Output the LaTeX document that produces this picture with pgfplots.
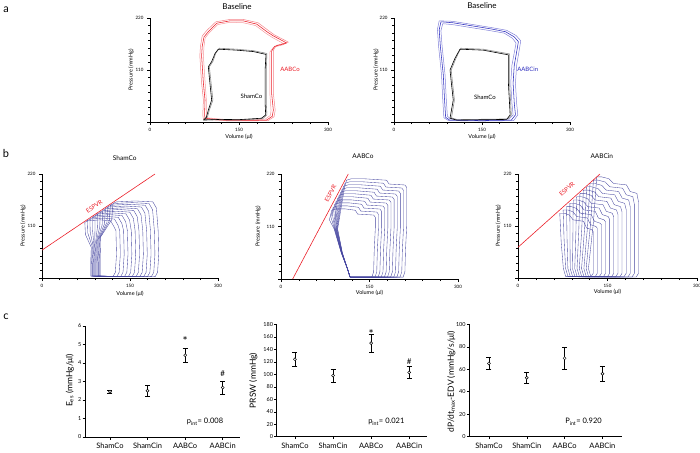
\documentclass[border=0pt]{standalone}
\usepackage{fontspec}
\setmainfont{Lato}
\usepackage{pgfplots}
\pgfplotsset{compat=1.18}
\definecolor{pvblue}{RGB}{70,70,160}
\definecolor{aared}{RGB}{235,30,40}
\definecolor{aablue}{RGB}{45,45,190}
\pgfplotsset{
  pv/.style={
    scale only axis, height=104pt,
    xmin=0, xmax=300, ymin=0, ymax=220,
    axis x line*=bottom, axis y line*=left,
    axis line style={black, line width=0.45pt},
    xtick={0,150,300}, ytick={0,110,220}, yticklabels={,110,220},
    minor x tick num=4, minor y tick num=6,
    tick align=outside, major tick length=3pt, minor tick length=2pt,
    tick style={black, line width=0.4pt},
    tick label style={font=\fontsize{4.5}{5}\selectfont},
    /pgf/number format/assume math mode=true,
    xlabel={Volume (μl)}, ylabel={Pressure (mmHg)},
    label style={font=\fontsize{5.5}{6}\selectfont},
    title style={font=\fontsize{8}{9}\selectfont, anchor=center},
    clip=false,
  },
  loop/.style={pvblue, line width=0.35pt},
  cat/.style={
    scale only axis, axis x line*=bottom, axis y line*=left,
    axis line style={black, line width=0.5pt},
    xtick={0,1,2,3}, xticklabels={ShamCo,ShamCin,AABCo,AABCin},
    tick align=outside, major tick length=2.5pt, tick style={black, line width=0.5pt},
    x tick label style={font=\fontsize{7.5}{8}\selectfont},
    y tick label style={font=\fontsize{5.5}{6}\selectfont, inner sep=1pt},
    /pgf/number format/assume math mode=true,
    ymin=0,
    label style={font=\fontsize{8.5}{9}\selectfont},
    clip=false,
  },
  dots/.style={black, only marks, mark=*, mark size=1.5pt,
    mark options={fill=white, draw=black, line width=0.5pt},
    error bars/.cd, y dir=both, y explicit,
    error bar style={line width=0.6pt, black},
    error mark options={rotate=90, mark size=2.5pt, line width=0.6pt, black}},
}
\begin{document}
\begin{tikzpicture}
\path[use as bounding box] (0pt,0pt) rectangle (700pt,-452pt);
\node[font=\fontsize{11}{12}\selectfont] at (6pt,-10pt) {a};
\node[font=\fontsize{11}{12}\selectfont] at (6pt,-153pt) {b};
\node[font=\fontsize{11}{12}\selectfont] at (6pt,-317pt) {c};

% ---------- a left
\begin{axis}[pv, at={(150pt,-122pt)}, anchor=south west, width=178pt,
  title={Baseline}, title style={at={(axis description cs:0.489,1.05)}},
  ylabel style={at={(axis description cs:-0.107,0.5)}, anchor=center},
  xlabel style={at={(axis description cs:0.5,-0.144)}, anchor=center}]
\addplot[aared!45, line width=0.5pt] coordinates {(95,9) (130,5) (175,5) (194,6) (203,14) (204,25) (202,60) (202,110) (202,148) (208,158) (226,164) (222,168) (206,179) (195,188) (178,204) (157,210) (135,211) (114,206) (100,189) (93,178) (91,160) (90,140) (92,100) (93,82) (95,46.5) (95,15) (95,9)};
\addplot[aared!55, line width=0.5pt] coordinates {(90,6) (130,2.5) (175,2.5) (199,3) (209,11) (211,25) (208,60) (208,110) (208,152) (213,162) (233,169) (227,173) (210,184) (199,194) (182,210) (157,217) (135,217) (111,212) (96,194) (88,182) (85,160) (84,140) (86,100) (87,82) (90,46.5) (89,15) (90,6)};
\addplot[aared, line width=0.55pt] coordinates {(92.7,7.8) (130,3.5) (175,3.5) (196.6,4.2) (206,12) (207.9,25) (205,60) (205,110) (205,150) (210,160) (230,167) (224.7,171) (208,182) (197,191) (180,207) (157,214) (135,214) (112.4,209) (98.3,191) (91,180) (88,160) (87,140) (89,100) (90,82) (92.7,46.5) (92,15) (92.7,7.8)};
\addplot[black!45, line width=0.6pt] coordinates {(92,5) (97,11) (100,25) (106,46.5) (103,82) (100,117) (106,128) (111,146) (117,156) (146,154) (174,151) (197,145) (196,110) (196,82) (196,40) (197,15) (190,7) (150,4) (118,4.5) (92,5)};
\addplot[black, line width=0.6pt] coordinates {(89.9,4) (95,10) (98.3,25) (103.9,46.5) (101,82) (98.3,117) (103.9,127.6) (109.6,145) (115,154) (146,152) (174,149) (195.5,143) (194,110) (194,82) (194,40) (195,15) (188,8) (150,5) (118,5.5) (89.9,4)};
\node[aared, font=\fontsize{6}{7}\selectfont] at (axis cs:236,112) {AABCo};
\node[black, font=\fontsize{6}{7}\selectfont] at (axis cs:171,54) {ShamCo};
\end{axis}

% ---------- a right
\begin{axis}[pv, at={(394pt,-122pt)}, anchor=south west, width=176pt,
  title={Baseline}, title style={at={(axis description cs:0.5,1.06)}},
  ylabel style={at={(axis description cs:-0.102,0.5)}, anchor=center},
  xlabel style={at={(axis description cs:0.5,-0.144)}, anchor=center}]
\addplot[aablue!60, line width=0.5pt] coordinates {(83,208) (100,206) (130,200) (165,193) (188,188) (202,177) (208,167) (206,153) (201,120) (199,82) (201,40) (203,15) (196,6) (150,5) (97,6) (91,12) (89,50) (87,100) (82,160) (80,193) (83,208)};
\addplot[aablue!60, line width=0.5pt] coordinates {(77,214) (100,213) (130,207) (165,200) (192,194) (208,183) (216,172) (214,156) (209,120) (207,82) (209,40) (211,15) (204,3) (150,2) (93,3) (85,9) (83,50) (81,100) (76,160) (74,196) (77,214)};
\addplot[aablue, line width=0.55pt] coordinates {(80,212) (100,210) (130,204) (165,197) (190,191) (205,180) (212,170) (210,155) (205,120) (203,82) (205,40) (207,15) (200,4) (150,3) (95,4) (88,10) (86,50) (84,100) (79,160) (77,195) (80,212)};
\addplot[black!45, line width=0.6pt] coordinates {(98,9) (103,46.5) (100,80) (97.5,110) (106,136) (114,156) (152,154) (197,144) (197,82) (200,15) (194,6.5) (107,5) (98,9)};
\addplot[black, line width=0.6pt] coordinates {(95.5,8) (101,46.5) (98,80) (95.5,110) (104,135) (112.5,154) (152,152) (195,142) (195,82) (198,15) (192,5.5) (107,4) (95.5,8)};
\node[aablue, font=\fontsize{6}{7}\selectfont] at (axis cs:228,112) {AABCin};
\node[black, font=\fontsize{6}{7}\selectfont] at (axis cs:155,53) {ShamCo};
\end{axis}

% ---------- b left: ShamCo
\begin{axis}[pv, at={(42pt,-278pt)}, anchor=south west, width=176pt,
  title={ShamCo}, title style={at={(axis description cs:0.47,1.096)}, font=\fontsize{6.5}{7}\selectfont},
  ylabel style={at={(axis description cs:-0.108,0.5)}, anchor=center},
  xlabel style={at={(axis description cs:0.5,-0.154)}, anchor=center}]
\addplot[loop] coordinates {(99,4) (193,3) (197,12) (199,50) (198,100) (195,148) (189,161) (159,163) (127,161) (121,158) (118.8,123.2) (100,86.9) (99,30) (99,4)};
\addplot[loop] coordinates {(97.5,4) (186.5,3) (190.5,12) (192.5,50) (191.5,100) (188.5,144.5) (182.5,157.5) (153.6,159.5) (122.6,157.5) (116.6,154.5) (114.7,120.5) (98.5,85) (97.5,30) (97.5,4)};
\addplot[loop] coordinates {(96.1,4) (179.9,3) (183.9,12) (185.9,50) (184.9,100) (181.9,140.9) (175.9,153.9) (148.1,155.9) (118.3,153.9) (112.3,150.9) (110.7,117.7) (97.1,83) (96.1,30) (96.1,4)};
\addplot[loop] coordinates {(94.6,4) (173.4,3) (177.4,12) (179.4,50) (178.4,100) (175.4,137.2) (169.4,150.2) (142.7,152.2) (113.9,150.2) (107.9,147.2) (106.6,114.8) (95.6,81) (94.6,30) (94.6,4)};
\addplot[loop] coordinates {(93.2,4) (166.8,3) (170.8,12) (172.8,50) (171.8,100) (168.8,133.5) (162.8,146.5) (137.2,148.5) (109.5,146.5) (103.5,143.5) (102.5,111.9) (94.2,78.9) (93.2,30) (93.2,4)};
\addplot[loop] coordinates {(91.7,4) (160.3,3) (164.3,12) (166.3,50) (165.3,100) (162.3,129.9) (156.3,142.9) (131.8,144.9) (105.2,142.9) (99.2,139.9) (98.5,109.1) (92.7,76.9) (91.7,30) (91.7,4)};
\addplot[loop] coordinates {(90.3,4) (153.7,3) (157.7,12) (159.7,50) (158.7,100) (155.7,126.3) (149.7,139.3) (126.3,141.3) (100.8,139.3) (94.8,136.3) (94.4,106.3) (91.3,75) (90.3,30) (90.3,4)};
\addplot[loop] coordinates {(88.8,4) (147.2,3) (151.2,12) (153.2,50) (152.2,100) (149.2,122.6) (143.2,135.6) (120.9,137.6) (96.5,135.6) (90.5,132.6) (90.3,103.4) (89.8,72.9) (88.8,30) (88.8,4)};
\addplot[loop] coordinates {(87.4,4) (140.6,3) (144.6,12) (146.6,50) (145.6,100) (142.6,119) (136.6,132) (115.4,134) (92.1,132) (86.1,129) (86.2,100.6) (88.4,71) (87.4,30) (87.4,4)};
\addplot[loop] coordinates {(85.9,4) (134.1,3) (138.1,12) (140.1,50) (139.1,100) (136.1,115.3) (130.1,128.3) (109.9,130.3) (87.7,128.3) (81.7,125.3) (82.1,97.7) (86.9,68.9) (85.9,30) (85.9,4)};
\addplot[loop] coordinates {(84.5,4) (127.5,3) (131.5,12) (133.5,50) (132.5,100) (129.5,111.7) (123.5,124.7) (104.5,126.7) (83.4,124.7) (77.4,121.7) (78.1,94.9) (85.5,66.9) (84.5,30) (84.5,4)};
\addplot[loop] coordinates {(83,4) (121,3) (125,12) (127,50) (126,100) (123,108) (117,121) (99,123) (79,121) (73,118) (74,92) (84,64.9) (83,30) (83,4)};
\addplot[aared, line width=0.6pt] coordinates {(0,59) (192.6,220)};
\node[aared, rotate=34, font=\fontsize{6}{7}\selectfont] at (axis cs:89,151) {ESPVR};
\end{axis}

% ---------- b middle: AABCo
\begin{axis}[pv, at={(281pt,-279pt)}, anchor=south west, width=177pt, height=105pt,
  title={AABCo}, title style={at={(axis description cs:0.463,1.114)}, font=\fontsize{6.5}{7}\selectfont},
  ylabel style={at={(axis description cs:-0.13,0.5)}, anchor=center},
  xlabel style={at={(axis description cs:0.5,-0.13)}, anchor=center}]
\addplot[loop] coordinates {(117,4) (207,4) (210,15) (211,60) (213,110) (213,192) (210,197) (183,199) (179,207) (141,210) (119,210) (111,207) (107,187) (96,105) (104,55) (113,20) (117,4)};
\addplot[loop] coordinates {(117,4) (201.7,4) (204.7,15) (205.7,60) (207.7,110) (207.7,185.7) (204.7,190.7) (177.7,192.7) (173.7,200.7) (138.3,203.7) (116.5,203.7) (108.5,200.7) (104.5,180.7) (95.4,105) (103.8,55) (113,20) (117,4)};
\addplot[loop] coordinates {(117,4) (196.4,4) (199.4,15) (200.4,60) (202.4,110) (202.4,179.4) (199.4,184.4) (172.4,186.4) (168.4,194.4) (134.9,197.4) (114,197.4) (106,194.4) (102,174.4) (94.8,105) (103.6,55) (113,20) (117,4)};
\addplot[loop] coordinates {(117,4) (191.1,4) (194.1,15) (195.1,60) (197.1,110) (197.1,173.1) (194.1,178.1) (167.1,180.1) (163.1,188.1) (131.6,191.1) (111.5,191.1) (103.5,188.1) (99.5,168.1) (94.2,105) (103.4,55) (113,20) (117,4)};
\addplot[loop] coordinates {(117,4) (185.8,4) (188.8,15) (189.8,60) (191.8,110) (191.8,166.8) (188.8,171.8) (161.8,173.8) (157.8,181.8) (128.2,184.8) (109,184.8) (101,181.8) (97,161.8) (93.6,105) (103.2,55) (113,20) (117,4)};
\addplot[loop] coordinates {(117,4) (180.5,4) (183.5,15) (184.5,60) (186.5,110) (186.5,160.5) (183.5,165.5) (156.5,167.5) (152.5,175.5) (124.9,178.5) (106.5,178.5) (98.5,175.5) (94.5,155.5) (93,105) (103,55) (113,20) (117,4)};
\addplot[loop] coordinates {(117,4) (175.2,4) (178.2,15) (179.2,60) (181.2,110) (181.2,154.2) (178.2,159.2) (151.2,161.2) (147.2,169.2) (121.6,172.2) (104,172.2) (96,169.2) (92,149.2) (92.4,105) (102.8,55) (113,20) (117,4)};
\addplot[loop] coordinates {(117,4) (169.9,4) (172.9,15) (173.9,60) (175.9,110) (175.9,147.9) (172.9,152.9) (145.9,154.9) (141.9,162.9) (118.2,165.9) (101.5,165.9) (93.5,162.9) (89.5,142.9) (91.8,105) (102.6,55) (113,20) (117,4)};
\addplot[loop] coordinates {(117,4) (164.6,4) (167.6,15) (168.6,60) (170.6,110) (170.6,141.6) (167.6,146.6) (140.6,148.6) (136.6,156.6) (114.9,159.6) (99,159.6) (91,156.6) (87,136.6) (91.2,105) (102.4,55) (113,20) (117,4)};
\addplot[loop] coordinates {(117,4) (159.3,4) (162.3,15) (163.3,60) (165.3,110) (165.3,135.3) (162.3,140.3) (135.3,142.3) (131.3,150.3) (111.5,153.3) (96.5,153.3) (88.5,150.3) (84.5,130.3) (90.6,105) (102.2,55) (113,20) (117,4)};
\addplot[loop] coordinates {(117,4) (154,4) (157,15) (158,60) (160,110) (160,129) (157,134) (130,136) (126,144) (108.2,147) (94,147) (86,144) (82,124) (90,105) (102,55) (113,20) (117,4)};
\addplot[aared, line width=0.6pt] coordinates {(19.8,0) (114,220)};
\node[aared, rotate=62, font=\fontsize{6}{7}\selectfont] at (axis cs:84,180) {ESPVR};
\end{axis}

% ---------- b right: AABCin
\begin{axis}[pv, at={(518pt,-278pt)}, anchor=south west, width=179pt,
  title={AABCin}, title style={at={(axis description cs:0.468,1.115)}, font=\fontsize{6.5}{7}\selectfont},
  ylabel style={at={(axis description cs:-0.11,0.5)}, anchor=center},
  xlabel style={at={(axis description cs:0.5,-0.13)}, anchor=center}]
\addplot[loop] coordinates {(122,3) (198,2) (202,10) (202,96.3) (202,160.5) (199.2,179) (188,183) (181.7,197) (160,200) (152.3,210) (140,214) (132,214) (126.4,117.7) (118,20) (122,3)};
\addplot[loop] coordinates {(118.2,3) (191.1,2) (195.1,10) (195.1,93.2) (195.1,155.3) (192.4,172) (181.4,176) (175.2,190) (153.9,193) (146.3,203) (134.4,207) (126.4,207) (121.5,113.9) (114.2,20) (118.2,3)};
\addplot[loop] coordinates {(114.4,3) (184.2,2) (188.2,10) (188.2,90) (188.2,150) (185.5,165) (174.7,169) (168.6,183) (147.7,186) (140.3,196) (128.7,200) (120.7,200) (116.6,110) (110.4,20) (114.4,3)};
\addplot[loop] coordinates {(110.5,3) (177.3,2) (181.3,10) (181.3,86.9) (181.3,144.8) (178.7,158) (168.1,162) (162.1,176) (141.6,179) (134.3,189) (123.1,193) (115.1,193) (111.7,106.2) (106.5,20) (110.5,3)};
\addplot[loop] coordinates {(106.7,3) (170.4,2) (174.4,10) (174.4,83.7) (174.4,139.5) (171.8,151) (161.4,155) (155.6,169) (135.5,172) (128.3,182) (117.5,186) (109.5,186) (106.8,102.3) (102.7,20) (106.7,3)};
\addplot[loop] coordinates {(102.9,3) (163.5,2) (167.5,10) (167.5,80.6) (167.5,134.3) (165,144) (154.8,148) (149,162) (129.3,165) (122.3,175) (111.8,179) (103.8,179) (101.8,98.5) (98.9,20) (102.9,3)};
\addplot[loop] coordinates {(99.1,3) (156.5,2) (160.5,10) (160.5,77.4) (160.5,129) (158,137) (148,141) (142.4,155) (123.1,158) (116.3,168) (106.2,172) (98.2,172) (97,94.6) (95.1,20) (99.1,3)};
\addplot[loop] coordinates {(95.3,3) (149.6,2) (153.6,10) (153.6,74.3) (153.6,123.8) (151.2,130) (141.4,134) (135.9,148) (116.9,151) (110.2,161) (100.5,165) (92.5,165) (92,90.8) (91.3,20) (95.3,3)};
\addplot[loop] coordinates {(91.5,3) (142.7,2) (146.7,10) (146.7,71.1) (146.7,118.5) (144.3,123) (134.7,127) (129.4,141) (110.8,144) (104.2,154) (94.9,158) (86.9,158) (87.1,86.9) (87.5,20) (91.5,3)};
\addplot[loop] coordinates {(87.6,3) (135.8,2) (139.8,10) (139.8,68) (139.8,113.3) (137.5,116) (128.1,120) (122.8,134) (104.7,137) (98.3,147) (89.3,151) (81.3,151) (82.2,83.1) (83.6,20) (87.6,3)};
\addplot[loop] coordinates {(83.8,3) (128.9,2) (132.9,10) (132.9,64.8) (132.9,105) (130.6,109) (121.4,113) (116.3,127) (98.5,130) (92.2,140) (83.6,144) (75.6,144) (77.3,79.2) (79.8,20) (83.8,3)};
\addplot[loop] coordinates {(80,3) (122,2) (126,10) (126,61.7) (126,98) (123.8,102) (114.8,106) (109.8,120) (92.4,123) (86.2,133) (78,137) (70,137) (72.4,75.4) (76,20) (80,3)};
\addplot[aared, line width=0.6pt] coordinates {(0,65) (137.4,220)};
\node[aared, rotate=42, font=\fontsize{6}{7}\selectfont] at (axis cs:82,188) {ESPVR};
\end{axis}

% ---------- c left: Ees
\begin{axis}[cat, at={(85pt,-437pt)}, anchor=south west, width=155pt, height=111pt,
  xmin=-0.665, xmax=3.46, ymax=6, ytick={0,1,2,3,4,5,6},
  ylabel={E\textsubscript{es} (mmHg/μl)},
  ylabel style={at={(axis description cs:-0.097,0.51)}, anchor=center}]
\addplot[dots] coordinates {(0,2.45) +- (0,0.08) (1,2.5) +- (0,0.3) (2,4.42) +- (0,0.38) (3,2.67) +- (0,0.35)};
\node[font=\fontsize{12}{13}\selectfont] at (axis cs:2,5.2) {*};
\node[font=\fontsize{8}{9}\selectfont] at (axis cs:3,3.44) {\#};
\node[font=\fontsize{7.5}{8}\selectfont] at (axis cs:2.53,0.83) {p\textsubscript{int}= 0.008};
\end{axis}

% ---------- c middle: PRSW
\begin{axis}[cat, at={(276.7pt,-436.7pt)}, anchor=south west, width=150pt, height=112.3pt,
  xmin=-0.48, xmax=3.46, ymax=180, ytick={0,20,...,180},
  ylabel={PRSW (mmHg)},
  ylabel style={at={(axis description cs:-0.156,0.5)}, anchor=center}]
\addplot[dots] coordinates {(0,124) +- (0,11) (1,98) +- (0,10.5) (2,150) +- (0,14) (3,103) +- (0,9.5)};
\node[font=\fontsize{12}{13}\selectfont] at (axis cs:2,165) {*};
\node[font=\fontsize{8}{9}\selectfont] at (axis cs:3,121) {\#};
\node[font=\fontsize{7.5}{8}\selectfont] at (axis cs:2.4,24) {p\textsubscript{int}= 0.021};
\end{axis}

% ---------- c right: dP/dt-EDV
\begin{axis}[cat, at={(469.3pt,-436.7pt)}, anchor=south west, width=152.4pt, height=112.4pt,
  xmin=-0.52, xmax=3.51, ymax=100, ytick={0,20,...,100},
  ylabel={dP/dt\textsubscript{max}-EDV (mmHg/s/μl)},
  ylabel style={at={(axis description cs:-0.118,0.49)}, anchor=center}]
\addplot[dots] coordinates {(0,65.2) +- (0,5.1) (1,52.4) +- (0,5) (2,69.8) +- (0,9.8) (3,56) +- (0,6.3)};
\node[font=\fontsize{7.5}{8}\selectfont] at (axis cs:2.5,13.3) {P\textsubscript{int}= 0.920};
\end{axis}
\end{tikzpicture}
\end{document}
